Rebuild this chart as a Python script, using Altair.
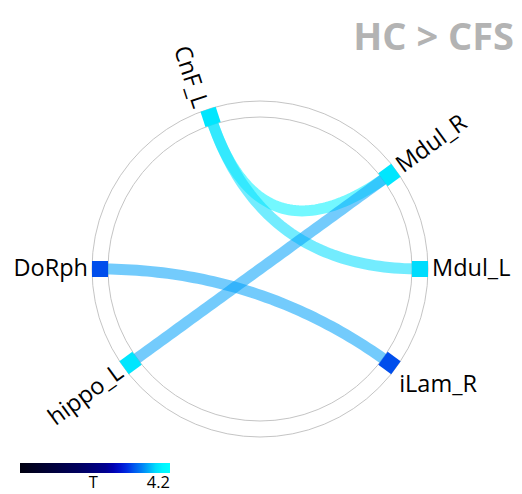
import math
import altair as alt
import pandas as pd

# ---- data ----
node_names = ["CnF_L", "Mdul_R", "Mdul_L", "iLam_R", "hippo_L", "DoRph"]
node_angles = [108, 36, 0, -36, 216, 180]          # position on the circle (deg, ccw from east)
node_T = [3.85, 3.85, 3.8, 3.15, 3.85, 3.15]       # node colour value

link_source = ["CnF_L", "CnF_L", "Mdul_R", "DoRph"]
link_target = ["Mdul_R", "Mdul_L", "hippo_L", "iLam_R"]
link_T = [3.95, 3.8, 3.55, 3.55]

legend_ticks = [2.05, 4.2]
legend_labels = ["T", "4.2"]

# ---- layout / style ----
R_NODE = 160
R_RING = [152, 168]
R_LABEL = 172
CX_DOMAIN = [-252, 254]
CY_DOMAIN = [-225, 261]

color_domain = [0, 1.68, 2.4, 2.65, 2.94, 3.23, 3.49, 3.7, 3.9, 4.2]
color_range = ["#00000f", "#000060", "#000090", "#0000b8", "#0020e0",
               "#0060f0", "#0090f8", "#00c8fa", "#00f0ff", "#00ffff"]

# label placement: rotation, align, baseline, dy
label_style = {
    "CnF_L": (72, "right", "middle", 7),
    "Mdul_R": (324, "left", "middle", 0),
    "Mdul_L": (0, "left", "middle", 0),
    "iLam_R": (0, "left", "top", 3),
    "hippo_L": (324, "right", "middle", 0),
    "DoRph": (0, "right", "middle", 0),
}

pos = {}
rows = []
for n, a, t in zip(node_names, node_angles, node_T):
    r = math.radians(a)
    x, y = R_NODE * math.cos(r), R_NODE * math.sin(r)
    pos[n] = (x, y)
    rot, al, bl, dy = label_style[n]
    rows.append(dict(name=n, x=x, y=y, T=t, rot=(-a) % 90,
                     lx=R_LABEL * math.cos(r), ly=R_LABEL * math.sin(r),
                     lrot=rot, align=al, baseline=bl, dy=dy))
nodes = pd.DataFrame(rows)

# quadratic Bezier ribbons through the circle centre
lrows = []
for i, (s, t, v) in enumerate(zip(link_source, link_target, link_T)):
    (x0, y0), (x2, y2) = pos[s], pos[t]
    for k in range(61):
        u = k / 60
        bx = (1 - u) ** 2 * x0 + u ** 2 * x2
        by = (1 - u) ** 2 * y0 + u ** 2 * y2
        lrows.append(dict(link=i, k=k, x=bx, y=by, T=v))
links = pd.DataFrame(lrows)

rings = pd.DataFrame(dict(x=[0, 0], y=[0, 0], s=[(2 * r) ** 2 for r in R_RING]))

xs = alt.Scale(domain=CX_DOMAIN, nice=False, zero=False)
ys = alt.Scale(domain=CY_DOMAIN, nice=False, zero=False)
X = alt.X("x:Q", scale=xs, axis=None)
Y = alt.Y("y:Q", scale=ys, axis=None)

cscale = alt.Scale(domain=color_domain, range=color_range, interpolate="rgb")

legend = alt.Legend(
    type="gradient",
    title=None, orient="none", direction="horizontal",
    legendX=12, legendY=455, gradientLength=150, gradientThickness=10,
    values=legend_ticks,
    labelExpr="datum.value > 4 ? '4.2' : 'T'",
    labelAlign="center", labelFontSize=16.5, labelFont="Open Sans",
    labelColor="#000000", labelOffset=2, gradientStrokeWidth=0,
    labelOverlap=False, gradientOpacity=1,
)

ring_layer = alt.Chart(rings).mark_point(
    shape="circle", filled=False, stroke="#bdbdbd", strokeWidth=0.9, opacity=1
).encode(x=X, y=Y, size=alt.Size("s:Q", scale=None))

link_layer = alt.Chart(links).mark_line(
    strokeWidth=11, strokeOpacity=0.55, strokeCap="butt"
).encode(
    x=X, y=Y, detail="link:N", order="k:Q",
    color=alt.Color("T:Q", scale=cscale, legend=legend),
)

# nodes drawn as stroked squares (8px square + 8px stroke = 16px block)
node_layer = alt.Chart(nodes).mark_point(
    shape="square", filled=False, size=64, strokeWidth=8, opacity=1,
    strokeJoin="miter",
).encode(
    x=X, y=Y, color=alt.Color("T:Q", scale=cscale, legend=legend),
    angle=alt.Angle("rot:Q", scale=None),
)

label_layers = []
for (al, bl), grp in nodes.groupby(["align", "baseline"]):
    for dyv, g2 in grp.groupby("dy"):
        label_layers.append(
            alt.Chart(g2).mark_text(
                align=al, baseline=bl, dy=float(dyv), fontSize=23.5,
                font="Open Sans", color="#000000"
            ).encode(
                x=alt.X("lx:Q", scale=xs, axis=None),
                y=alt.Y("ly:Q", scale=ys, axis=None),
                text="name:N",
                angle=alt.Angle("lrot:Q", scale=None),
            )
        )

chart = alt.layer(ring_layer, link_layer, node_layer, *label_layers).properties(
    width=506, height=486,
    title=alt.TitleParams(
        text="HC > CFS", anchor="end", fontSize=38, font="Open Sans",
        fontWeight="bold", color="#b3b3b3", dy=50, offset=0,
    ),
    autosize=alt.AutoSizeParams(type="none"),
    padding=0,
).configure_view(stroke=None)

chart.save("out.html", embed_options={"renderer": "svg", "actions": False})
